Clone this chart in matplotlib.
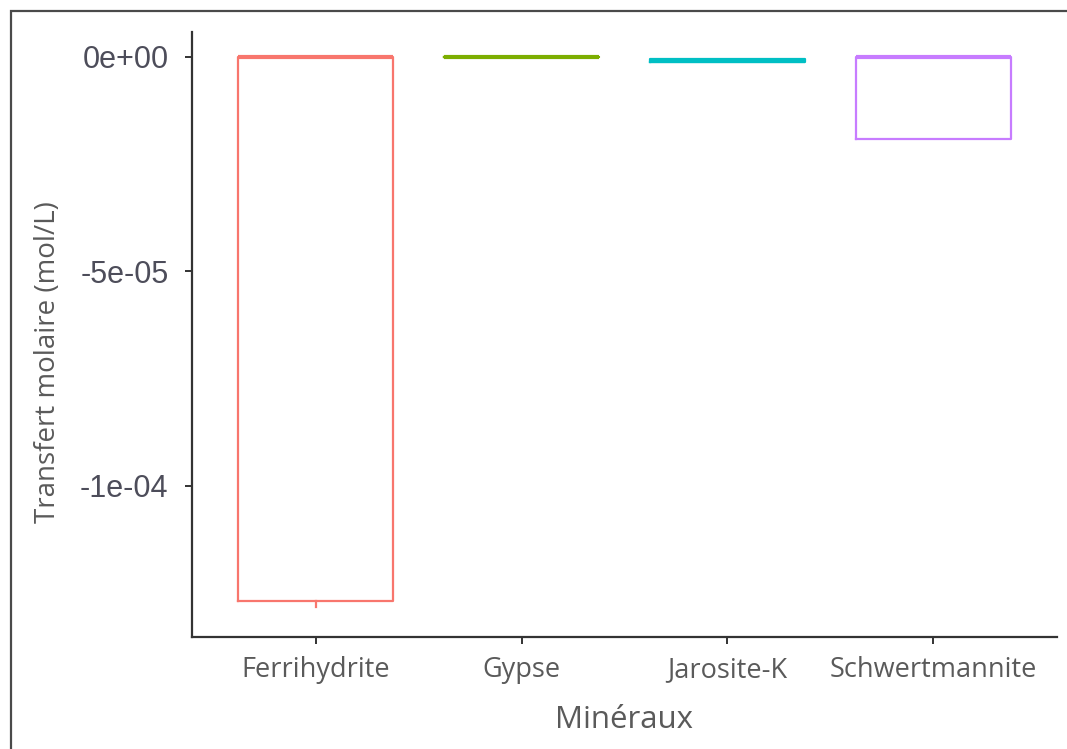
import matplotlib
matplotlib.use("Agg")
import matplotlib.pyplot as plt
from matplotlib.patches import Rectangle

# Molar transfer per mineral (mol/L): box summary statistics
minerals = ["Ferrihydrite", "Gypse", "Jarosite-K", "Schwertmannite"]
whisker_low = [-1.281e-4, 0.0, -0.12e-5, -1.91e-5]
q1 = [-1.268e-4, 0.0, -0.12e-5, -1.91e-5]
median = [0.0, 0.0, -0.09e-5, 0.0]
q3 = [0.0, 0.0, -0.06e-5, 0.0]
whisker_high = [0.0, 0.0, -0.06e-5, 0.0]
colors = ["#F8766D", "#7CAE00", "#00BFC4", "#C77CFF"]

y_ticks = [0.0, -5e-5, -1e-4]
y_tick_labels = ["0e+00", "-5e-05", "-1e-04"]

W, H = 1067, 749
fig = plt.figure(figsize=(W / 100, H / 100), dpi=100)
fig.patch.set_facecolor("white")

# outer frame around the figure
fig.patches.append(Rectangle((11 / W, -0.1), 1.2, 1 - 11 / H + 0.1,
                             transform=fig.transFigure, fill=False,
                             edgecolor="#4a4a4a", linewidth=1.6))

ax = fig.add_axes([192 / W, 1 - 637 / H, (1057 - 192) / W, (637 - 32) / H])

for i, name in enumerate(minerals):
    stats = [{
        "whislo": whisker_low[i], "q1": q1[i], "med": median[i],
        "q3": q3[i], "whishi": whisker_high[i], "fliers": [], "label": name,
    }]
    c = colors[i]
    ax.bxp(stats, positions=[i + 1], widths=0.75, showcaps=False,
           showfliers=False, patch_artist=False,
           boxprops=dict(color=c, linewidth=1.6),
           whiskerprops=dict(color=c, linewidth=1.6),
           medianprops=dict(color=c, linewidth=3.0, solid_capstyle="butt"))

ax.set_xlim(0.4, 4.6)
ax.set_ylim(-1.352e-4, 0.58e-5)
ax.set_xticks(range(1, len(minerals) + 1))
ax.set_xticklabels(minerals, fontfamily="Open Sans", fontsize=19.5, color="#5a5a5a")
ax.set_yticks(y_ticks)
ax.set_yticklabels(y_tick_labels, fontfamily="Liberation Sans", fontsize=22, color="#4d4d5a")

for side in ("top", "right"):
    ax.spines[side].set_visible(False)
for side in ("left", "bottom"):
    ax.spines[side].set_color("#333333")
    ax.spines[side].set_linewidth(1.6)
ax.tick_params(axis="both", length=5, width=1.4, color="#333333")
ax.tick_params(axis="x", pad=9)
ax.tick_params(axis="y", pad=12)

ax.set_xlabel("Minéraux", fontfamily="Open Sans", fontsize=22.5, color="#5a5a5a")
ax.xaxis.set_label_coords(0.5, -(720 - 637) / (637 - 32), transform=ax.transAxes)
ax.xaxis.label.set_va("center")
ax.set_ylabel("Transfert molaire (mol/L)", fontfamily="Open Sans", fontsize=20,
              color="#5a5a5a")
ax.yaxis.set_label_coords(-(192 - 48) / (1057 - 192), (637 - 362) / (637 - 32),
                          transform=ax.transAxes)
ax.yaxis.label.set_va("center")

fig.savefig("out.png", dpi=100, facecolor="white")
